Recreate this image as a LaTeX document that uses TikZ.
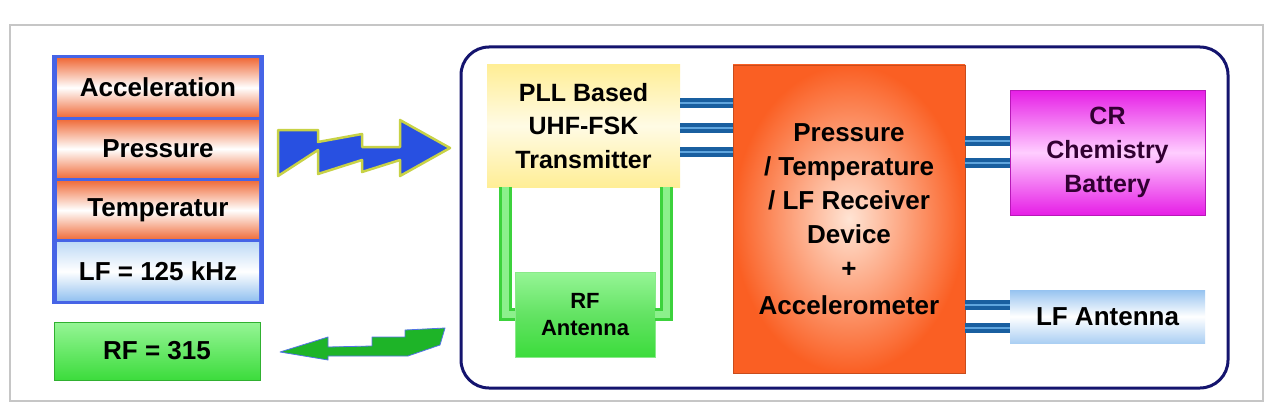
\documentclass[tikz,border=0pt]{standalone}
\usepackage{fontspec}
\setmainfont{Liberation Sans}
\usepackage{tikz}

\definecolor{stackblue}{RGB}{70,100,230}
\definecolor{barorange}{RGB}{240,112,64}
\definecolor{lfblue}{RGB}{150,195,240}
\definecolor{rfgreen}{RGB}{60,220,60}
\definecolor{rflight}{RGB}{150,245,150}
\definecolor{pllyellow}{RGB}{255,238,150}
\definecolor{coreouter}{RGB}{250,95,35}
\definecolor{coreinner}{RGB}{255,228,212}
\definecolor{battmagenta}{RGB}{230,30,230}
\definecolor{battlight}{RGB}{255,205,255}
\definecolor{batttext}{RGB}{50,0,50}
\definecolor{casenavy}{RGB}{20,20,110}
\definecolor{busdark}{RGB}{25,95,160}
\definecolor{buslight}{RGB}{95,165,222}
\definecolor{linkgreen}{RGB}{60,210,60}
\definecolor{linklight}{RGB}{140,240,140}
\definecolor{boltblue}{RGB}{40,80,225}
\definecolor{boltedge}{RGB}{200,210,70}
\definecolor{boltgreen}{RGB}{30,180,40}

\begin{document}
\begin{tikzpicture}[x=1pt,y=-1pt,
  box/.style={inner sep=0pt, align=center, font=\fontsize{26}{34}\selectfont\bfseries},
  sensorbar/.style={box, minimum width=202pt, minimum height=57.25pt,
    top color=barorange, bottom color=barorange, middle color=white},
  bus/.style={draw=busdark, line width=4pt, double=buslight, double distance=2pt},
  antlink/.style={draw=linkgreen, line width=3pt, double=linklight, double distance=7pt}]
\fill[white] (0,0) rectangle (1274,412);
\useasboundingbox (0,0) rectangle (1274,412);
\draw[gray!45, line width=1.2pt] (10,25) rectangle (1263,401);

\fill[stackblue] (52,55) rectangle (264,304);
\node[sensorbar] (accel) at (158,87.6) {Acceleration};
\node[sensorbar] (press) at (158,148.9) {Pressure};
\node[sensorbar] (temp) at (158,210.1) {Temperatur};
\node[box, minimum width=202pt, minimum height=57.25pt,
  top color=lfblue!60, bottom color=lfblue, middle color=white] (lf) at (158,271.4) {LF = 125 kHz};

\node[box, minimum width=206pt, minimum height=58pt, draw=rfgreen!80!black, line width=0.6pt,
  top color=rflight, bottom color=rfgreen] (rfout) at (157,351) {RF = 315};

\draw[boltedge, fill=boltblue, line width=2.5pt, line join=round]
  (278,130) -- (318,130) -- (318,142) -- (362,134) -- (362,147) -- (400,147)
  -- (400,120) -- (450,148) -- (400,176) -- (400,160) -- (362,172) -- (362,160)
  -- (318,174) -- (318,150) -- (278,176) -- cycle;
\draw[boltblue!80, fill=boltgreen, line width=0.8pt, line join=round]
  (280,352) -- (328,337) -- (328,347) -- (372,346) -- (372,337) -- (405,337)
  -- (405,330) -- (445,328) -- (440,345) -- (408,356) -- (372,356) -- (328,356)
  -- (328,360) -- cycle;

\draw[casenavy, line width=3pt, rounded corners=28pt] (461,47) rectangle (1228,388);

\node[box, font=\fontsize{25}{33.5}\selectfont\bfseries, minimum width=193pt, minimum height=122pt,
  top color=pllyellow, bottom color=pllyellow, middle color=pllyellow!25] (pll) at (583.5,126)
  {PLL Based\\UHF-FSK\\Transmitter};
\node[box, font=\fontsize{22}{27}\selectfont\bfseries, minimum width=140pt, minimum height=85pt,
  draw=rfgreen!60, line width=0.6pt, top color=rflight, bottom color=rfgreen, middle color=rfgreen!80!white]
  (rfant) at (585,314.5) {RF\\Antenna};
\node[box, minimum width=232pt, minimum height=308pt, draw=coreouter!80!black, line width=0.5pt,
  inner color=coreinner, outer color=coreouter] (sensor) at (849,219)
  {Pressure\\/ Temperature\\/ LF Receiver\\Device\\+\\[3pt]Accelerometer};
\node[box, font=\fontsize{25}{34}\selectfont\bfseries, text=batttext, minimum width=195pt, minimum height=125pt,
  draw=battmagenta!80!black, line width=0.5pt,
  top color=battmagenta, bottom color=battmagenta, middle color=battlight] (batt) at (1107.5,152.5)
  {CR\\Chemistry\\Battery};
\node[box, minimum width=195pt, minimum height=53pt,
  top color=lfblue, bottom color=lfblue!80, middle color=white] (lfant) at (1107.5,316.5) {LF Antenna};

\draw[bus] ([yshift=23pt]pll.east) -- ([yshift=23pt]pll.east -| sensor.west);
\draw[bus] ([yshift=-2pt]pll.east) -- ([yshift=-2pt]pll.east -| sensor.west);
\draw[bus] ([yshift=-26pt]pll.east) -- ([yshift=-26pt]pll.east -| sensor.west);
\draw[bus] ([yshift=11.5pt]batt.west -| sensor.east) -- ([yshift=11.5pt]batt.west);
\draw[bus] ([yshift=-10.5pt]batt.west -| sensor.east) -- ([yshift=-10.5pt]batt.west);
\draw[bus] ([yshift=11.5pt]lfant.west -| sensor.east) -- ([yshift=11.5pt]lfant.west);
\draw[bus] ([yshift=-11.5pt]lfant.west -| sensor.east) -- ([yshift=-11.5pt]lfant.west);

\draw[antlink] ([xshift=-78.5pt]pll.south) |- (rfant.west);
\draw[antlink] ([xshift=82.5pt]pll.south) |- (rfant.east);
\end{tikzpicture}
\end{document}
